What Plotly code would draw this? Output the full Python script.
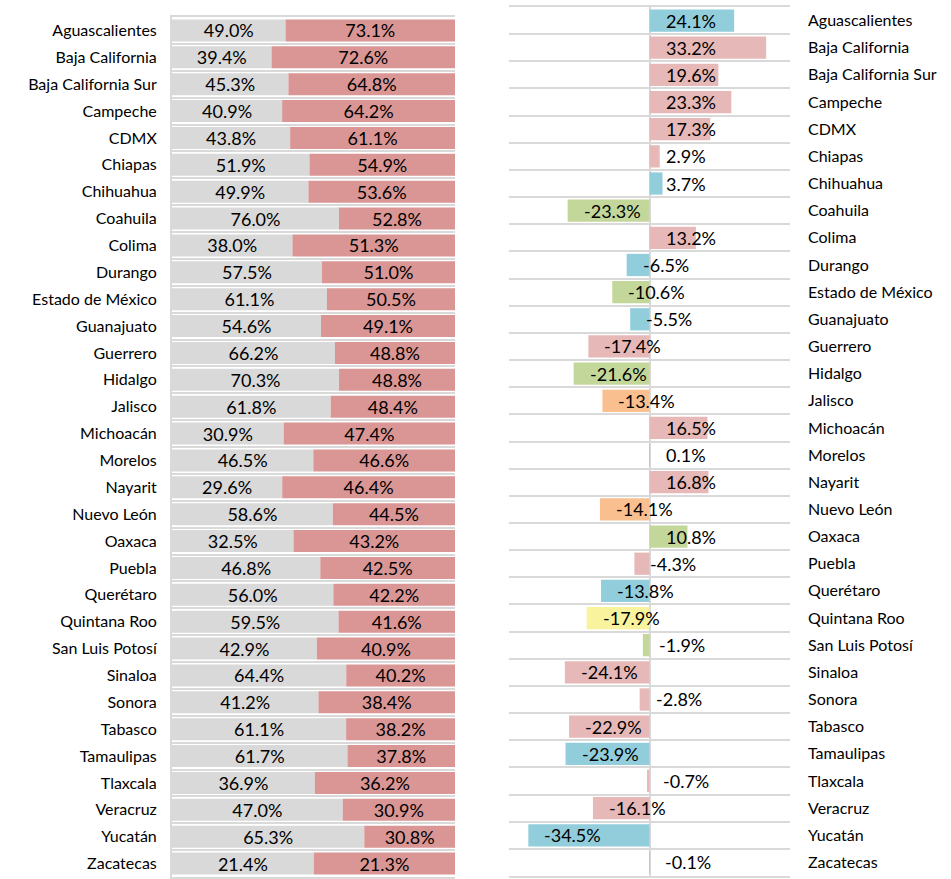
import numpy as np
import plotly.graph_objects as go

states = ["Aguascalientes", "Baja California", "Baja California Sur", "Campeche", "CDMX",
          "Chiapas", "Chihuahua", "Coahuila", "Colima", "Durango", "Estado de México",
          "Guanajuato", "Guerrero", "Hidalgo", "Jalisco", "Michoacán", "Morelos", "Nayarit",
          "Nuevo León", "Oaxaca", "Puebla", "Querétaro", "Quintana Roo", "San Luis Potosí",
          "Sinaloa", "Sonora", "Tabasco", "Tamaulipas", "Tlaxcala", "Veracruz", "Yucatán",
          "Zacatecas"]
gray_vals = [49.0, 39.4, 45.3, 40.9, 43.8, 51.9, 49.9, 76.0, 38.0, 57.5, 61.1, 54.6, 66.2,
             70.3, 61.8, 30.9, 46.5, 29.6, 58.6, 32.5, 46.8, 56.0, 59.5, 42.9, 64.4, 41.2,
             61.1, 61.7, 36.9, 47.0, 65.3, 21.4]
red_vals = [73.1, 72.6, 64.8, 64.2, 61.1, 54.9, 53.6, 52.8, 51.3, 51.0, 50.5, 49.1, 48.8,
            48.8, 48.4, 47.4, 46.6, 46.4, 44.5, 43.2, 42.5, 42.2, 41.6, 40.9, 40.2, 38.4,
            38.2, 37.8, 36.2, 30.9, 30.8, 21.3]
change_vals = [24.1, 33.2, 19.6, 23.3, 17.3, 2.9, 3.7, -23.3, 13.2, -6.5, -10.6, -5.5, -17.4,
               -21.6, -13.4, 16.5, 0.1, 16.8, -14.1, 10.8, -4.3, -13.8, -17.9, -1.9, -24.1,
               -2.8, -22.9, -23.9, -0.7, -16.1, -34.5, -0.1]
groups = ["b", "p", "p", "p", "p", "p", "b", "g", "p", "b", "g", "b", "p", "g", "o", "p",
          "p", "p", "o", "g", "p", "b", "y", "g", "p", "p", "p", "b", "p", "p", "b", "p"]
group_colors = {"b": "#92CDDC", "p": "#E6B8B7", "g": "#C4D79B", "o": "#FABF8F", "y": "#F9F39E"}

FONT = "Lato"
W, H = 951, 879

g = np.array(gray_vals)
r = np.array(red_vals)
tot = g + r
g_share = g / tot * 100
r_share = r / tot * 100

fig = go.Figure()
fig.add_trace(go.Bar(
    y=states, x=g_share, orientation="h", marker=dict(color="#D9D9D9", line=dict(width=0)),
    text=[f"{v:.1f}%" for v in gray_vals], textposition="inside", insidetextanchor="middle",
    textangle=0, constraintext="none", textfont=dict(size=18, color="#000000", family=FONT),
    xaxis="x", yaxis="y", hoverinfo="skip"))
fig.add_trace(go.Bar(
    y=states, x=r_share, orientation="h", marker=dict(color="#DA9694", line=dict(width=0)),
    text=[f"{v:.1f}%" for v in red_vals], textposition="inside", insidetextanchor="middle",
    textangle=0, constraintext="none", textfont=dict(size=18, color="#000000", family=FONT),
    xaxis="x", yaxis="y", hoverinfo="skip"))
fig.add_trace(go.Bar(
    y=states, x=change_vals, orientation="h",
    marker=dict(color=[group_colors[k] for k in groups], line=dict(width=0)),
    xaxis="x2", yaxis="y2", hoverinfo="skip"))

for s, v in zip(states, change_vals):
    fig.add_annotation(x=min(v, 0), y=s, xref="x2", yref="y2", text=f"{v:.1f}%",
                       showarrow=False, xanchor="left", yanchor="middle", xshift=14,
                       font=dict(size=18, color="#000000", family=FONT))

grid = "#D9D9D9"
fig.update_layout(
    width=W, height=H, barmode="relative", bargap=0.18,
    margin=dict(l=0, r=0, t=0, b=0), paper_bgcolor="white", plot_bgcolor="white",
    showlegend=False, font=dict(family=FONT, size=16, color="#000000"),
    xaxis=dict(domain=[172 / W, 455 / W], range=[0, 100], showgrid=False, zeroline=False,
               showticklabels=False, showline=True, mirror=True, linecolor=grid, linewidth=2,
               anchor="y"),
    yaxis=dict(domain=[1 - 877 / H, 1 - 17 / H], autorange="reversed", type="category",
               tickson="boundaries", showgrid=True, gridcolor=grid, gridwidth=2,
               showline=True, linecolor=grid, linewidth=2, ticks="", ticklabelstandoff=10,
               tickfont=dict(size=16, family=FONT, color="#000000"), anchor="x"),
    xaxis2=dict(domain=[509 / W, 790 / W], range=[-40, 40], showgrid=False, zeroline=True,
                zerolinecolor=grid, zerolinewidth=2, showticklabels=False, showline=True,
                mirror=True, linecolor=grid, linewidth=2, anchor="y2"),
    yaxis2=dict(domain=[1 - 876 / H, 1 - 7 / H], autorange="reversed", type="category",
                tickson="boundaries", showgrid=True, gridcolor=grid, gridwidth=2,
                showline=False, ticks="", side="right", ticklabelstandoff=17,
                tickfont=dict(size=16, family=FONT, color="#000000"), anchor="x2"),
)

fig.write_html("out.html", config={"displayModeBar": False},
               post_script="document.body.style.margin='0px';document.body.style.overflow='hidden';")
